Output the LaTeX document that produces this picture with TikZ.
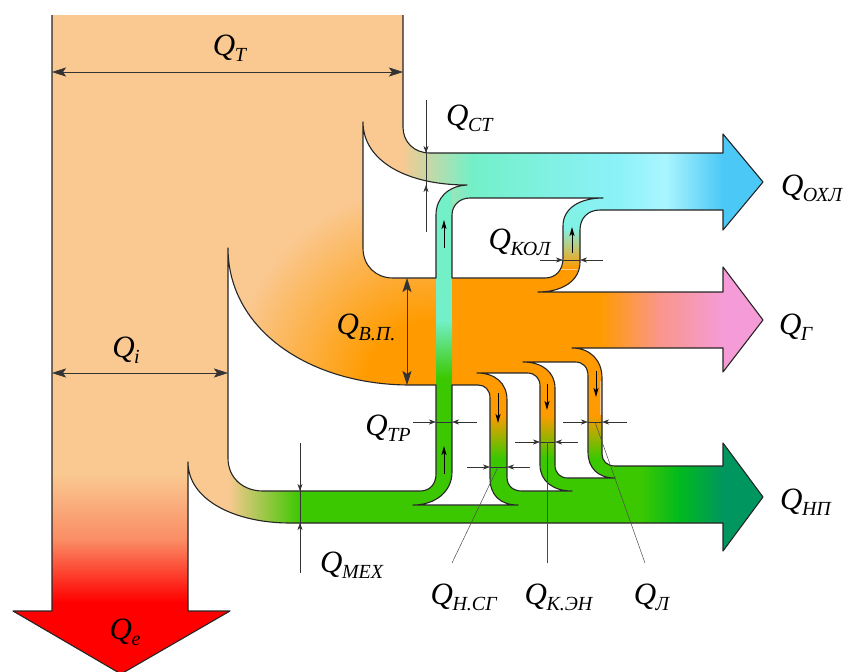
\documentclass[tikz,border=0pt]{standalone}
\usepackage{fontspec}
\setmainfont{Liberation Serif}
\usetikzlibrary{arrows.meta}

\definecolor{peach}{RGB}{250,200,145}
\definecolor{flame}{RGB}{255,155,0}
\definecolor{salmon}{RGB}{250,150,140}
\definecolor{rose}{RGB}{245,155,215}
\definecolor{aqua}{RGB}{115,240,200}
\definecolor{icecyan}{RGB}{140,242,250}
\definecolor{palecyan}{RGB}{170,245,255}
\definecolor{sky}{RGB}{75,200,245}
\definecolor{leaf}{RGB}{60,200,0}
\definecolor{grass}{RGB}{0,185,30}
\definecolor{pine}{RGB}{0,150,95}
\definecolor{ember}{RGB}{250,140,100}
\definecolor{fire}{RGB}{255,0,0}

% glow of the exhaust flow out of the fuel heat
\pgfdeclareradialshading{vpglow}{\pgfpoint{0bp}{0bp}}{color(0bp)=(flame); color(8bp)=(flame); color(25bp)=(peach); color(50bp)=(peach)}

% Q with a lowered subscript
\newcommand{\qlab}[1]{\textit{Q}\kern-0.5pt\raisebox{-6pt}{\fontsize{20}{20}\selectfont\textit{#1}}}

\begin{document}
\begin{tikzpicture}[x=1pt, y=-1pt,
  edge/.style={draw=black!85, line width=1.1pt, line join=round},
  hole/.style={edge, fill=white},
  dimline/.style={black!80, line width=0.6pt},
  bigdim/.style={dimline, {Stealth[length=14pt,width=9pt,inset=3pt]}-{Stealth[length=14pt,width=9pt,inset=3pt]}},
  tick/.style={dimline, -{Stealth[length=7pt,width=5pt,inset=2pt]}},
  flowtip/.style={line width=0.9pt, -{Stealth[length=9pt,width=5pt,inset=2pt]}},
  leader/.style={black!70, line width=0.5pt},
  qtext/.style={font=\fontsize{31}{34}\selectfont, inner sep=0pt}]
  \useasboundingbox (0,0) rectangle (847,672);

  % outer contour of all flows (top side left open)
  \path[save path=\flowpath] (403,15) -- (403,127) .. controls (403,142) and (414,153) .. (430,153)
    -- (723,153) -- (723,134) -- (763,182) -- (723,230) -- (723,210)
    -- (600,210) .. controls (588,210) and (580,218) .. (580,230) -- (580,262)
    .. controls (580,281) and (562,292) .. (538,292) -- (723,292)
    -- (723,267) -- (763,320) -- (723,372) -- (723,348)
    -- (572,348) .. controls (590,348) and (602,360) .. (602,378) -- (602,454)
    .. controls (602,461) and (607,466) .. (615,466) -- (723,466)
    -- (723,443) -- (763,497) -- (723,551) -- (723,523)
    -- (290,523) .. controls (235,523) and (188,500) .. (188,462)
    -- (188,611) -- (230,611) -- (121,674) -- (13,611) -- (52,611) -- (52,15);

  % colour of the flows
  \begin{scope}
    \clip[use path=\flowpath];
    \fill[peach] (0,0) rectangle (847,672);
    \begin{scope}
      \clip (228,122) rectangle (436,392);
      \shade[shading=vpglow] (430,385) circle (200);
    \end{scope}
    % effective heat
    \shade[top color=peach, bottom color=ember] (40,475) rectangle (188,540);
    \shade[top color=ember, bottom color=fire] (40,540) rectangle (188,602);
    \fill[fire] (0,602) rectangle (240,680);
    % exhaust gases
    \fill[flame] (436,270) rectangle (600,420);
    \shade[left color=flame, right color=salmon] (600,260) rectangle (660,380);
    \shade[left color=salmon, right color=rose] (660,260) rectangle (723,380);
    \fill[rose] (723,260) rectangle (770,380);
    \shade[top color=flame, bottom color=leaf] (455,415) rectangle (620,458);
    % mechanical losses and environment
    \shade[left color=peach, right color=leaf] (228,455) rectangle (300,530);
    \fill[leaf] (300,458) rectangle (640,560);
    \shade[left color=leaf, right color=grass] (640,440) rectangle (680,560);
    \shade[left color=grass, right color=pine] (680,440) rectangle (723,560);
    \fill[pine] (723,430) rectangle (770,560);
    % cooling
    \shade[left color=peach, right color=aqua] (400,120) rectangle (472,215);
    \shade[left color=aqua, right color=icecyan] (472,150) rectangle (620,215);
    \shade[left color=icecyan, right color=palecyan] (620,150) rectangle (665,215);
    \shade[left color=palecyan, right color=sky] (665,150) rectangle (723,215);
    \fill[sky] (723,130) rectangle (770,235);
    \fill[aqua!40!icecyan] (538,212) rectangle (585,228);
    \shade[top color=aqua!40!icecyan, bottom color=flame] (538,228) rectangle (585,268);
    % friction band
    \fill[aqua] (436,186) rectangle (452,320);
    \shade[top color=aqua, bottom color=leaf] (436,320) rectangle (452,378);
    \fill[leaf] (436,378) rectangle (452,520);
  \end{scope}

  % white gaps between the flows
  \filldraw[hole] (363,122) .. controls (363,160) and (405,185) .. (467,185)
    .. controls (448,186) and (436,198) .. (436,215) -- (436,278) -- (393,278)
    .. controls (376,278) and (363,266) .. (363,248) -- cycle;
  \filldraw[hole] (452,215) .. controls (452,205) and (460,198) .. (470,198) -- (603,198)
    .. controls (580,198) and (563,208) .. (563,226) -- (563,258)
    .. controls (563,270) and (556,278) .. (545,278) -- (452,278) -- cycle;
  \filldraw[hole] (228,248) .. controls (228,330) and (310,385) .. (410,385) -- (436,385)
    -- (436,474) .. controls (436,484) and (430,491) .. (420,491) -- (263,491)
    .. controls (243,491) and (228,478) .. (228,458) -- cycle;
  \filldraw[hole] (452,385) -- (478,385) .. controls (485,385) and (490,390) .. (490,398)
    -- (490,478) .. controls (490,495) and (500,505) .. (518,505) -- (413,505)
    .. controls (435,505) and (452,492) .. (452,472) -- cycle;
  \filldraw[hole] (477,373) .. controls (495,373) and (507,383) .. (507,400) -- (507,477)
    .. controls (507,486) and (513,491) .. (522,491) -- (572,491)
    .. controls (553,491) and (540,481) .. (540,465) -- (540,386)
    .. controls (540,378) and (535,373) .. (527,373) -- cycle;
  \filldraw[hole] (523,362) .. controls (542,362) and (555,372) .. (555,388) -- (555,465)
    .. controls (555,473) and (560,478) .. (568,478) -- (615,478)
    .. controls (598,478) and (588,468) .. (588,452) -- (588,376)
    .. controls (588,367) and (583,362) .. (575,362) -- cycle;

  \draw[edge, use path=\flowpath];

  % flow directions inside the bands
  \draw[flowtip] (444,248) -- (444,220);
  \draw[flowtip] (444,474) -- (444,446);
  \draw[flowtip] (572,253) -- (572,227);
  \draw[flowtip] (498,393) -- (498,423);
  \draw[flowtip] (547,384) -- (547,410);
  \draw[flowtip] (596,371) -- (596,397);

  % dimensions
  \draw[bigdim] (52,72) -- (403,72);
  \draw[bigdim] (52,373) -- (228,373);
  \draw[bigdim] (407,278) -- (407,385);
  \draw[dimline] (426,100) -- (426,232);
  \draw[tick] (426,125) -- (426,153);
  \draw[tick] (426,212) -- (426,185);
  \draw[dimline] (300,443) -- (300,573);
  \draw[tick] (300,465) -- (300,491);
  \draw[tick] (300,550) -- (300,523);
  \draw[tick] (540,260) -- (563,260);
  \draw[tick] (603,260) -- (580,260);
  \draw[dimline] (563,260) -- (580,260);
  \draw[tick] (413,422) -- (436,422);
  \draw[tick] (477,422) -- (452,422);
  \draw[dimline] (436,422) -- (452,422);
  \draw[tick] (467,467) -- (490,467);
  \draw[tick] (530,467) -- (507,467);
  \draw[dimline] (490,467) -- (507,467);
  \draw[tick] (515,442) -- (540,442);
  \draw[tick] (578,442) -- (555,442);
  \draw[dimline] (540,442) -- (555,442);
  \draw[tick] (563,422) -- (588,422);
  \draw[tick] (627,422) -- (602,422);
  \draw[dimline] (588,422) -- (602,422);

  % labels
  \node[qtext] (qt) at (230,48) {\qlab{Т}};
  \node[qtext] (qst) at (470,118) {\qlab{СТ}};
  \node[qtext] (qokhl) at (812,188) {\qlab{ОХЛ}};
  \node[qtext] (qkol) at (520,242) {\qlab{КОЛ}};
  \node[qtext] (qvp) at (366,327) {\qlab{В.П.}};
  \node[qtext] (qg) at (796,327) {\qlab{Г}};
  \node[qtext] (qi) at (126,350) {\qlab{i}};
  \node[qtext] (qtr) at (388,428) {\qlab{ТР}};
  \node[qtext] (qmex) at (352,565) {\qlab{МЕХ}};
  \node[qtext] (qnsg) at (464,597) {\qlab{Н.СГ}};
  \node[qtext] (qken) at (559,597) {\qlab{К.ЭН}};
  \node[qtext] (ql) at (652,597) {\qlab{Л}};
  \node[qtext] (qnp) at (806,502) {\qlab{НП}};
  \node[qtext] (qe) at (125,632) {\qlab{e}};

  % leaders to the lower labels
  \coordinate (nsgdim) at (498,467);
  \coordinate (kendim) at (547,442);
  \coordinate (ldim) at (595,422);
  \coordinate (nsgend) at (452,563);
  \coordinate (kenend) at (547,563);
  \coordinate (lend) at (645,563);
  \draw[leader] (nsgdim) -- (nsgend);
  \draw[leader] (kendim) -- (kenend);
  \draw[leader] (ldim) -- (lend);
\end{tikzpicture}
\end{document}
